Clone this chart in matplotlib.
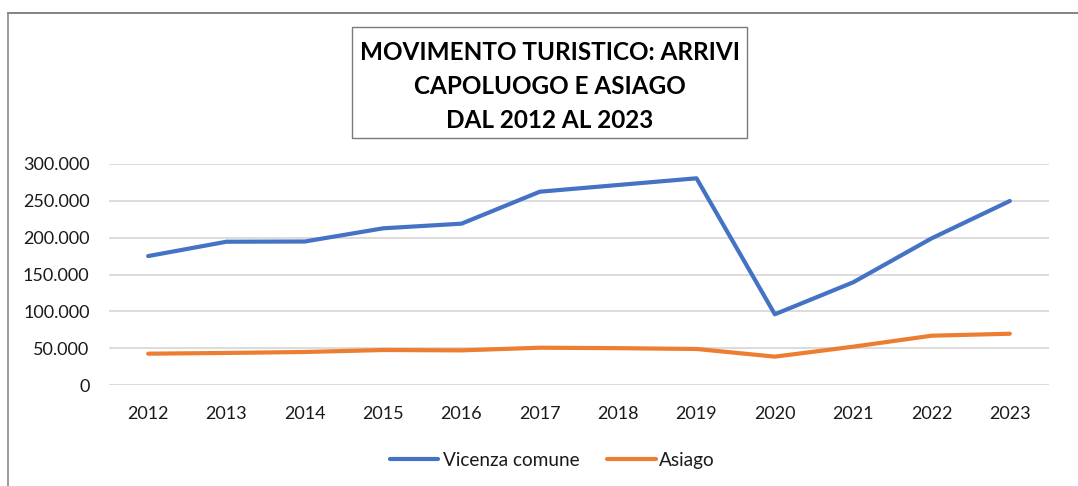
import matplotlib
matplotlib.use("Agg")
import matplotlib.pyplot as plt
from matplotlib.patches import Rectangle
from matplotlib.lines import Line2D
from matplotlib.ticker import FuncFormatter

years = ["2012", "2013", "2014", "2015", "2016", "2017", "2018", "2019", "2020", "2021", "2022", "2023"]
vicenza = [175000, 194500, 194800, 212700, 219000, 262400, 271500, 280600, 96000, 139400, 199000, 249800]
asiago = [42500, 43500, 44800, 47500, 47000, 50600, 50000, 48900, 38500, 52000, 66900, 69600]
series_names = ["Vicenza comune", "Asiago"]
series_colors = ["#4472C4", "#ED7D31"]
title_lines = ["MOVIMENTO TURISTICO: ARRIVI", "CAPOLUOGO E ASIAGO", "DAL 2012 AL 2023"]
yticks = [0, 50000, 100000, 150000, 200000, 250000, 300000]

plt.rcParams['font.family'] = ['Lato', 'DejaVu Sans']

W, H, DPI = 1078, 486, 100
fig = plt.figure(figsize=(W / DPI, H / DPI), dpi=DPI)
fig.patch.set_facecolor("white")

def fx(px):
    return px / W

def fy(py):
    return 1 - py / H

# outer chart border (top and left visible)
fig.add_artist(Line2D([fx(8), 1.0], [fy(13), fy(13)], transform=fig.transFigure,
                      color="#6e6e6e", lw=1.2))
fig.add_artist(Line2D([fx(8), fx(8)], [0.0, fy(13)], transform=fig.transFigure,
                      color="#8a8a8a", lw=1.2))

ax = fig.add_axes([fx(109), fy(385), (1049 - 109) / W, (385 - 164) / H])
x = list(range(len(years)))
for vals, col in zip([vicenza, asiago], series_colors):
    ax.plot(x, vals, color=col, lw=3.0, solid_capstyle="round", solid_joinstyle="round", zorder=3)

ax.set_xlim(-0.5, len(years) - 0.5)
ax.set_ylim(0, 300000)
ax.set_yticks(yticks)
ax.yaxis.set_major_formatter(FuncFormatter(lambda v, p: "0" if v == 0 else f"{int(v):,}".replace(",", ".")))
ax.set_xticks(x)
ax.set_xticklabels(years)
ax.grid(axis="y", color="#D9D9D9", lw=1.3)
ax.set_axisbelow(True)
for s in ax.spines.values():
    s.set_visible(False)
ax.tick_params(axis="both", length=0, labelsize=13, colors="#1a1a1a")
ax.tick_params(axis="y", pad=14)
ax.tick_params(axis="x", pad=15)

# title box
bx0, by0, bx1, by1 = 352, 27, 747, 138
fig.add_artist(Rectangle((fx(bx0), fy(by1)), (bx1 - bx0) / W, (by1 - by0) / H,
                         transform=fig.transFigure, facecolor="white", edgecolor="#7a7a7a", lw=1.0))
for i, line in enumerate(title_lines):
    fig.text(fx(549.5), fy(59.5 + 34.5 * i), line, ha="center", va="baseline",
             fontsize=17.5, fontweight="bold", color="black")

# legend (manual placement)
leg_y = 459
leg_items = [(390, 438, 443), (607, 656, 659)]
for (l0, l1, tx), name, col in zip(leg_items, series_names, series_colors):
    fig.add_artist(Line2D([fx(l0), fx(l1)], [fy(leg_y), fy(leg_y)], transform=fig.transFigure,
                          color=col, lw=3.0, solid_capstyle="round"))
    fig.text(fx(tx), fy(leg_y), name, ha="left", va="center_baseline", fontsize=13.7, color="#1a1a1a")

fig.savefig("out.png", dpi=DPI, facecolor="white")
